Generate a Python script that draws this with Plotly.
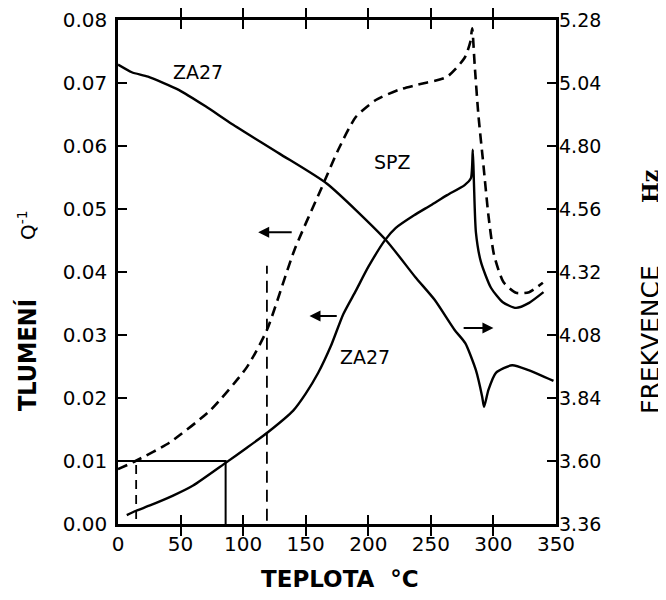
import plotly.graph_objects as go

# ---- data ----
# ZA27 damping Q^-1 (left axis)
za27_T = [7, 14.5, 25, 44, 60, 86, 103, 120, 140, 150, 160, 170, 180, 190, 200, 213.5, 222, 236.6, 250, 263, 277,
          282, 283.5, 284.4, 286, 290, 298, 307.5, 318, 328.5, 340]
za27_Q = [0.0014, 0.0021, 0.0029, 0.0045, 0.0061, 0.0097, 0.0121, 0.0146, 0.0180, 0.0207, 0.0240, 0.0282,
          0.0333, 0.0370, 0.0408, 0.0451, 0.0470, 0.0490, 0.0506, 0.0522, 0.0538,
          0.0549, 0.0594, 0.0543, 0.0463, 0.0416, 0.0375, 0.0352, 0.0343, 0.0351, 0.0368]

# SPZ damping Q^-1 (left axis)
spz_T = [0, 14, 41, 74, 103, 119, 141, 163, 176, 190, 206, 224, 239, 263, 277, 281.5, 283,
         285, 288, 292, 296, 300.5, 308, 318, 328.5, 339.5]
spz_Q = [0.0087, 0.0100, 0.0129, 0.0181, 0.0249, 0.0308, 0.0435, 0.0535, 0.0594, 0.0646, 0.0673, 0.0689,
         0.0697, 0.0710, 0.0740, 0.0765, 0.0787,
         0.0729, 0.0649, 0.0570, 0.0490, 0.0427, 0.0384, 0.0367, 0.0368, 0.0383]

# ZA27 frequency Hz (right axis)
freq_T = [0, 11, 24, 48.5, 70, 91, 129, 167, 214, 237.5, 253, 269, 277.5, 286, 291, 292.5, 296, 302, 315, 328, 348]
freq_Hz = [5.110, 5.081, 5.064, 5.014, 4.951, 4.884, 4.771, 4.656, 4.442, 4.301, 4.214, 4.099, 4.049, 3.946,
           3.845, 3.806, 3.871, 3.936, 3.965, 3.946, 3.905]

# guide lines
box_T = [0, 86, 86]
box_Q = [0.010, 0.010, 0.0]
vdash1_T = [14.5, 14.5]
vdash1_Q = [0.0008, 0.0098]
vdash2_T = [119, 119]
vdash2_Q = [0.0005, 0.041]

# arrows: (tail T, head T, Q)
arrows = [(140, 112, 0.0463), (176, 153, 0.0330), (275, 300, 0.0311)]

# curve labels
labels_text = ["ZA27", "SPZ", "ZA27"]
labels_T = [64, 219, 197]
labels_Q = [0.0717, 0.0575, 0.0265]

x_ticks = [0, 50, 100, 150, 200, 250, 300, 350]
yl_ticks = [0.00, 0.01, 0.02, 0.03, 0.04, 0.05, 0.06, 0.07, 0.08]
yr_ticks = [3.36, 3.60, 3.84, 4.08, 4.32, 4.56, 4.80, 5.04, 5.28]

# ---- figure ----
OFF = 8  # page body margin
W, H = 666 - OFF, 600 - OFF
L, T = 118 - OFF, 20 - OFF
R = W - (556 - OFF)
B = H - (524 - OFF)
PW, PH = W - L - R, H - T - B

def px2paper(px, py):
    fx, fy = px - OFF, py - OFF
    return (fx - L) / PW, (H - B - fy) / PH

FONT = "DejaVu Sans"
fig = go.Figure()

fig.add_trace(go.Scatter(x=spz_T, y=spz_Q, mode="lines", line=dict(color="black", width=2.6, dash="10px,6px",
                         shape="spline", smoothing=0.6), hoverinfo="skip"))
fig.add_trace(go.Scatter(x=za27_T, y=za27_Q, mode="lines",
                         line=dict(color="black", width=2.4, shape="spline", smoothing=0.6), hoverinfo="skip"))
fig.add_trace(go.Scatter(x=box_T, y=box_Q, mode="lines", line=dict(color="black", width=2), hoverinfo="skip"))
fig.add_trace(go.Scatter(x=vdash1_T, y=vdash1_Q, mode="lines", line=dict(color="black", width=1.8, dash="9px,6px"),
                         hoverinfo="skip"))
fig.add_trace(go.Scatter(x=vdash2_T, y=vdash2_Q, mode="lines", line=dict(color="black", width=1.8, dash="12px,7px"),
                         hoverinfo="skip"))
fig.add_trace(go.Scatter(x=freq_T, y=freq_Hz, mode="lines",
                         line=dict(color="black", width=2.4, shape="spline", smoothing=0.6),
                         yaxis="y2", hoverinfo="skip"))

for tail, head, q in arrows:
    fig.add_annotation(x=head, y=q, ax=tail, ay=q, xref="x", yref="y", axref="x", ayref="y",
                       text="", showarrow=True, arrowhead=2, arrowsize=1.1, arrowwidth=2, arrowcolor="black")

for t, x, y in zip(labels_text, labels_T, labels_Q):
    fig.add_annotation(x=x, y=y, xref="x", yref="y", text=t, showarrow=False,
                       font=dict(family=FONT, size=19, color="black"))

def add_text(text, px, py, size, angle=0, family=FONT, bold=False):
    xp, yp = px2paper(px, py)
    fig.add_annotation(x=xp, y=yp, xref="paper", yref="paper", text=("<b>%s</b>" % text) if bold else text,
                       showarrow=False, textangle=angle, xanchor="center", yanchor="middle",
                       font=dict(family=family, size=size, color="black"))

add_text("TLUMENÍ", 27, 355, 25, -90, "DejaVu Sans Condensed, DejaVu Sans", True)
add_text("Q<sup>-1</sup>", 27, 225, 20, -90, FONT)
add_text("FREKVENCE", 650, 340, 25, -90, FONT)
add_text("Hz", 650, 187, 22, -90, "DejaVu Serif", True)
add_text("TEPLOTA  °C", 340, 579, 23, 0, FONT, True)

axis_common = dict(showgrid=False, zeroline=False, automargin=False)
fig.update_layout(
    width=W, height=H, margin=dict(l=L, r=R, t=T, b=B, pad=0, autoexpand=False),
    paper_bgcolor="white", plot_bgcolor="white", showlegend=False,
    xaxis=dict(range=[0, 350], tickvals=x_ticks, ticks="inside", ticklen=9, tickwidth=2, tickcolor="black",
               showline=True, linecolor="black", linewidth=2.5, mirror="allticks",
               tickfont=dict(family=FONT, size=20, color="black"), **axis_common),
    yaxis=dict(range=[0, 0.08], tickvals=yl_ticks, tickformat=".2f", ticks="inside", ticklen=9, tickwidth=2,
               tickcolor="black", showline=True, linecolor="black", linewidth=2.5, mirror="allticks",
               ticklabelstandoff=4, tickfont=dict(family=FONT, size=20, color="black"), **axis_common),
    yaxis2=dict(range=[3.36, 5.28], tickvals=yr_ticks, tickformat=".2f", overlaying="y", side="right",
                ticks="", showline=False, ticklabelstandoff=2,
                tickfont=dict(family=FONT, size=19, color="black"), **axis_common),
)

fig.write_html("out.html")
